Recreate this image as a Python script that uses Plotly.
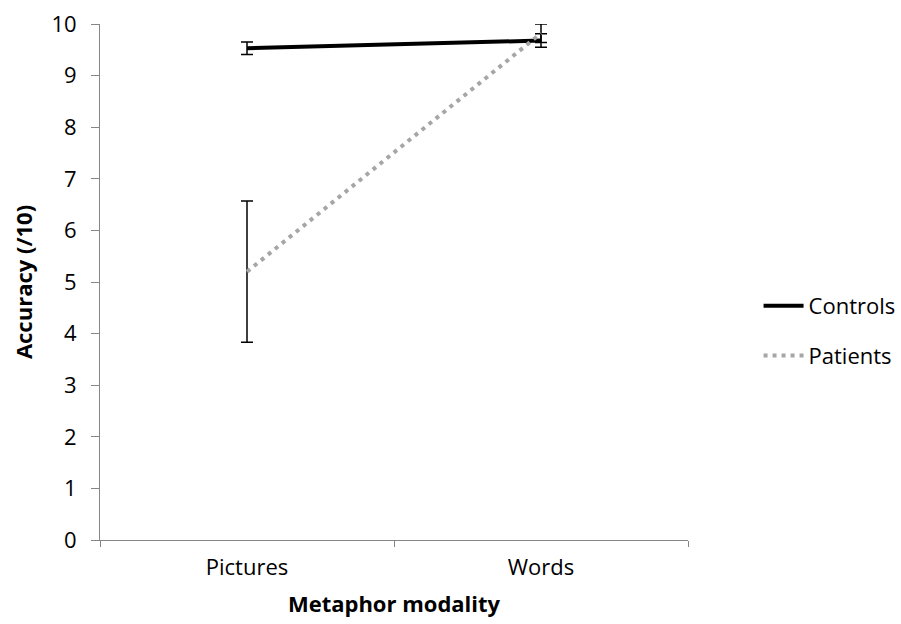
import plotly.graph_objects as go

modalities = ["Pictures", "Words"]
controls_mean = [9.53, 9.68]
controls_err = [0.12, 0.13]
patients_mean = [5.2, 9.82]
patients_err = [1.37, 0.18]
y_ticks = list(range(0, 11))

FONT = "'Open Sans', Lato, sans-serif"
AXIS_GREY = "#868686"
FS = 22

fig = go.Figure()
fig.add_trace(go.Scatter(
    x=modalities, y=controls_mean, name="Controls", mode="lines",
    legendgroup="c",
    line=dict(color="black", width=4),
    error_y=dict(type="data", array=controls_err, color="black", thickness=1.5, width=6),
))
fig.add_trace(go.Scatter(
    x=modalities, y=patients_mean, name="Patients", mode="lines",
    legendgroup="p",
    line=dict(color="#a6a6a6", width=4, dash="4px,5px"),
    error_y=dict(type="data", array=patients_err, color="black", thickness=1.5, width=6),
))

fig.update_layout(
    width=901, height=624,
    margin=dict(l=100, r=213, t=24, b=84, autoexpand=False),
    paper_bgcolor="white", plot_bgcolor="white",
    font=dict(family=FONT, size=FS, color="black"),
    showlegend=True,
    legend=dict(x=1.12, y=0.405, xanchor="left", yanchor="middle",
                font=dict(size=FS), tracegroupgap=18, itemwidth=40),
    xaxis=dict(
        type="category", range=[-0.5, 1.5], automargin=False,
        showline=True, linecolor=AXIS_GREY, linewidth=1,
        ticks="outside", ticklen=6, tickcolor=AXIS_GREY, tickson="boundaries",
        ticklabelstandoff=8,
        showgrid=False, zeroline=False,
        tickfont=dict(size=FS),
        title=dict(text="<b>Metaphor modality</b>", font=dict(size=FS), standoff=16),
    ),
    yaxis=dict(
        range=[0, 10], tickvals=y_ticks, automargin=False,
        showline=True, linecolor=AXIS_GREY, linewidth=1,
        ticks="outside", ticklen=8, tickcolor=AXIS_GREY,
        ticklabelstandoff=10,
        showgrid=False, zeroline=False,
        tickfont=dict(size=FS),
        title=dict(text="<b>Accuracy (/10)</b>", font=dict(size=FS), standoff=12),
    ),
)

fig.write_html("out.html")
